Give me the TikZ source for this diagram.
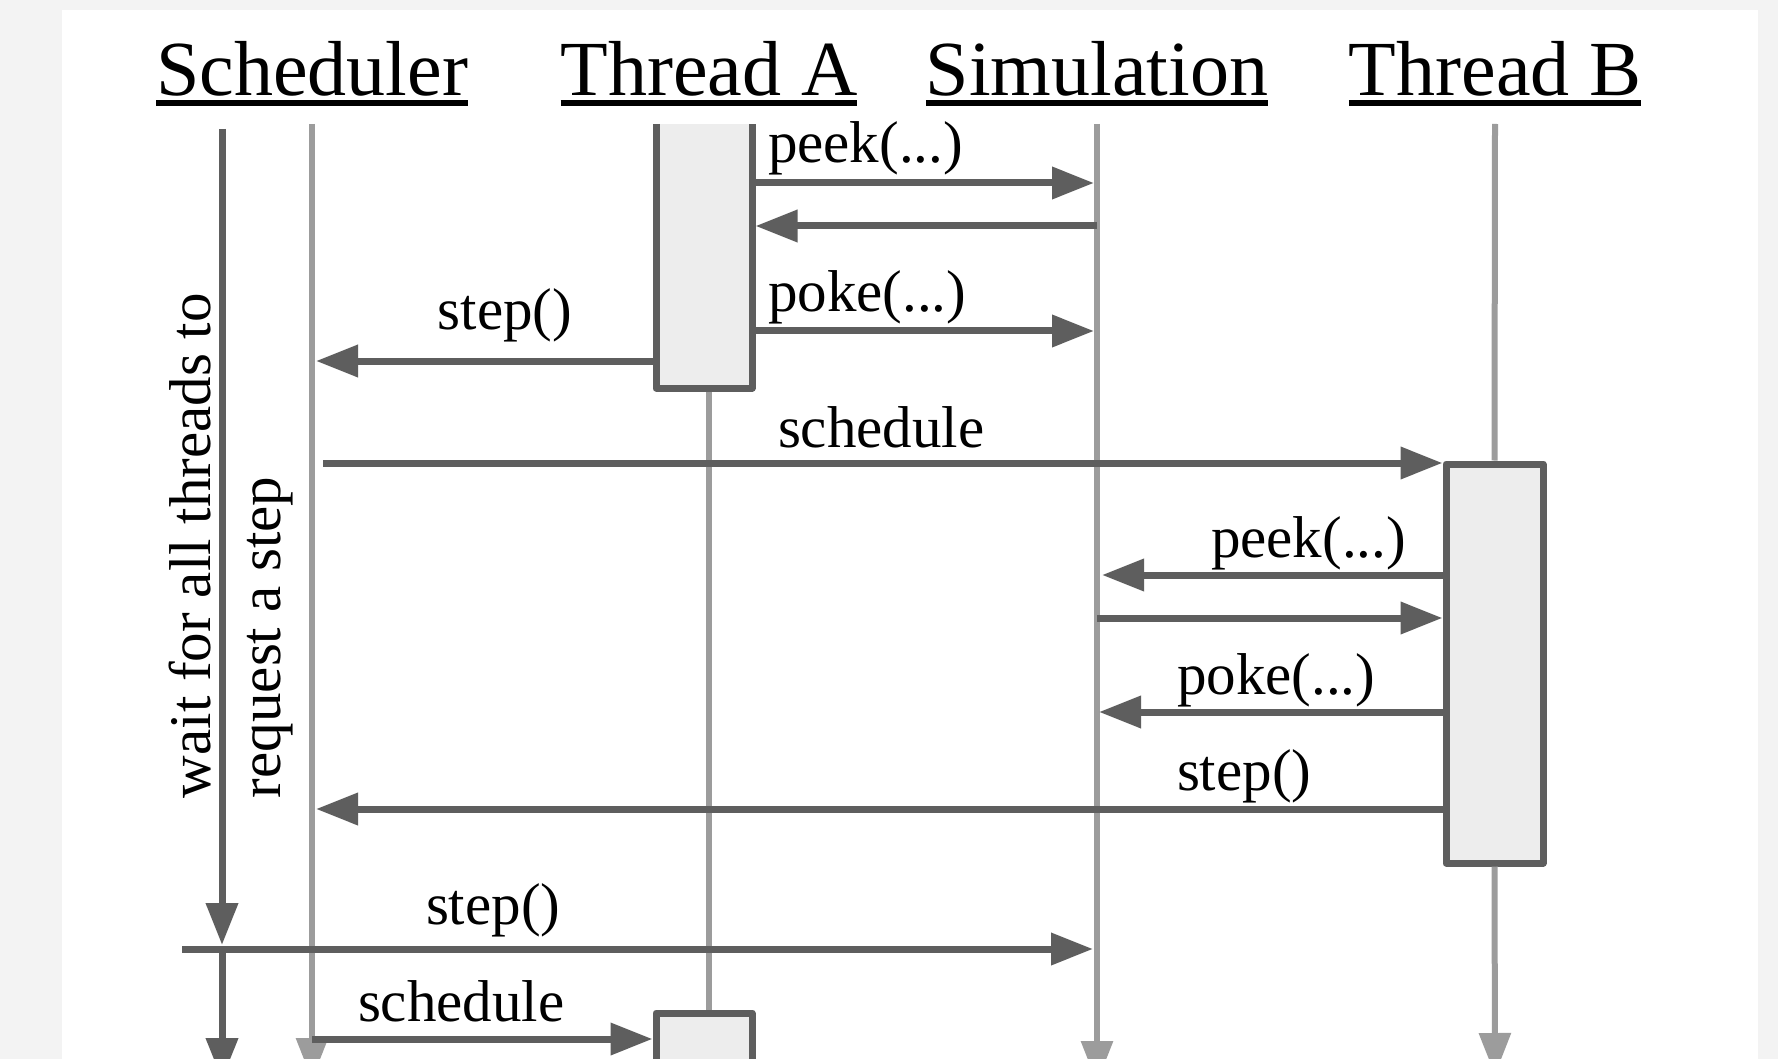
\documentclass[tikz,border=0pt]{standalone}
\usepackage{fontspec}
\setmainfont{Liberation Serif}
\usetikzlibrary{arrows.meta}
\definecolor{pagebg}{HTML}{F3F3F3}
\definecolor{msgdark}{HTML}{5E5E5E}
\definecolor{lifegrey}{HTML}{9C9C9C}
\definecolor{actfill}{HTML}{EDEDED}

\begin{document}
\begin{tikzpicture}[x=1pt,y=-1pt,
  hdr/.style={inner sep=0pt, outer sep=0pt, anchor=base, font=\fontsize{78}{90}\selectfont},
  hdrline/.style={draw=black, line width=6pt},
  lbl/.style={inner sep=0pt, outer sep=0pt, font=\fontsize{59}{68}\selectfont},
  tip/.style={-{Triangle[length=42pt,width=31pt]}},
  msg/.style={draw=msgdark, line width=7pt, tip},
  life/.style={draw=lifegrey, line width=6pt},
  lifeend/.style={life, tip},
  actbg/.style={fill=actfill, inner sep=0pt, outer sep=0pt},
  actline/.style={draw=msgdark, line width=7pt, line join=round},
  actbox/.style={draw=msgdark, fill=actfill, line width=7pt, line join=round, inner sep=0pt, outer sep=3.5pt}
]
\useasboundingbox (0,0) rectangle (1778,1059);
\fill[pagebg] (0,0) rectangle (1778,1059);
\fill[white] (62,10) rectangle (1758,1070);

% participant headings
\node[hdr] (hS) at (312,96) {Scheduler};
\node[hdr] (hA) at (709,96) {Thread A};
\node[hdr] (hM) at (1097,96) {Simulation};
\node[hdr] (hB) at (1495,96) {Thread B};
\foreach \h in {hS,hA,hM,hB}
  \draw[hdrline] (\h.west |- 0,103) -- (\h.east |- 0,103);

% lifeline positions
\coordinate (wait) at (222,0);
\coordinate (sch) at (312,0);
\coordinate (tA) at (709,0);
\coordinate (sim) at (1097,0);
\coordinate (tB) at (1495,0);

% activation boxes
\node[actbg, minimum width=96pt, minimum height=264pt] (boxA) at (704,256) {};
\node[actbg, minimum width=96pt, minimum height=100pt] (boxA2) at (704,1063) {};
\node[actbox, minimum width=97pt, minimum height=399pt] (boxB) at (1494.5,663.5) {};

% lifelines
\draw[lifeend] (sch |- 0,124) -- (sch |- 0,1080);
\draw[life] (boxA.south -| tA) -- (boxA2.north -| tA);
\draw[lifeend] (sim |- 0,124) -- (sim |- 0,1083);
\draw[life] (tB |- 0,124) -- (boxB.north);
\draw[lifeend] (boxB.south) -- (tB |- 0,1075);

% scheduler waiting line
\draw[msg] (wait |- 0,129) -- (wait |- 0,945);
\draw[msg] (wait |- 0,949) -- (wait |- 0,1080);

% messages of Thread A
\draw[msg] (boxA.east |- 0,183) -- ([xshift=-3pt]sim |- 0,183);
\draw[msg] (sim |- 0,226) -- ([xshift=3.5pt]boxA.east |- 0,226);
\draw[msg] (boxA.east |- 0,331) -- ([xshift=-3pt]sim |- 0,331);
\draw[msg] (boxA.west |- 0,361) -- ([xshift=4pt]sch |- 0,361);

% schedule Thread B
\draw[msg] ([xshift=11pt]sch |- 0,463) -- (boxB.west |- 0,463);

% messages of Thread B
\draw[msg] (boxB.west |- 0,575) -- ([xshift=5pt]sim |- 0,575);
\draw[msg] (sim |- 0,618) -- (boxB.west |- 0,618);
\draw[msg] (boxB.west |- 0,712) -- ([xshift=2pt]sim |- 0,712);
\draw[msg] (boxB.west |- 0,809) -- ([xshift=4pt]sch |- 0,809);

% global step and next schedule
\draw[msg] ([xshift=-40pt]wait |- 0,949) -- ([xshift=-4pt]sim |- 0,949);
\draw[msg] (sch |- 0,1039) -- ([xshift=-3.5pt]boxA2.west |- 0,1039);

% borders of the open activation boxes of Thread A
\draw[actline] (boxA.north west) -- (boxA.south west) -- (boxA.south east) -- (boxA.north east);
\draw[actline] (boxA2.south west) -- (boxA2.north west) -- (boxA2.north east) -- (boxA2.south east);

% message labels
\node[lbl, anchor=base west] (lpeekA) at (768,163) {peek(...)};
\node[lbl, anchor=base west] (lpokeA) at (768,312) {poke(...)};
\node[lbl, anchor=base] (lstepA) at (505,330) {step()};
\node[lbl, anchor=base west] (lschedB) at (778,447) {schedule};
\node[lbl, anchor=base east] (lpeekB) at (1406,557) {peek(...)};
\node[lbl, anchor=base west] (lpokeB) at (1177,694) {poke(...)};
\node[lbl, anchor=base west] (lstepB) at (1177,790) {step()};
\node[lbl, anchor=base west] (lstep) at (426,924) {step()};
\node[lbl, anchor=base west] (lschedA) at (358,1021) {schedule};

% notes along the scheduler
\node[lbl, rotate=90, anchor=base west] (lwait) at (210,798) {wait for all threads to};
\node[lbl, rotate=90, anchor=base west] (lreq) at (280,798) {request a step};
\end{tikzpicture}
\end{document}
